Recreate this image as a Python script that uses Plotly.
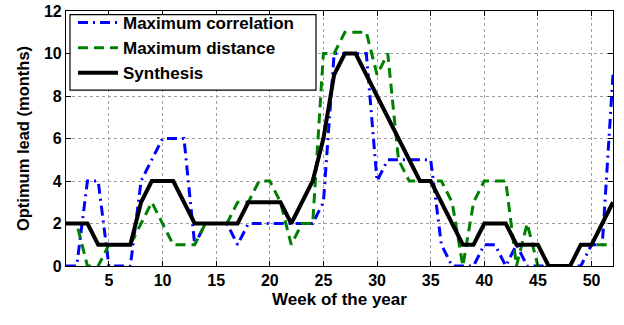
import plotly.graph_objects as go

weeks = list(range(1, 53))

max_correlation = [0, 0, 4, 4, 0, 0, 0, 4, 5, 6, 6, 6, 1, 2, 2, 2, 1, 2, 2, 2,
                   2, 2, 2, 2, 3, 10, 10, 10, 10, 4, 5, 5, 5, 5, 5, 1, 0, 0, 0, 1,
                   1, 0, 1, 0, 0, 0, 0, 0, 0, 1, 1, 9]
max_distance = [2, 2, 0, 0, 1, 1, 1, 2, 3, 2, 1, 1, 1, 2, 2, 2, 3, 3, 4, 4,
                3, 1, 2, 2, 10, 10, 11, 11, 11, 9, 10, 5, 4, 4, 4, 4, 3, 0, 3, 4,
                4, 4, 0, 2, 0, 0, 0, 0, 1, 1, 1, 1]
synthesis = [2, 2, 2, 1, 1, 1, 1, 3, 4, 4, 4, 3, 2, 2, 2, 2, 2, 3, 3, 3,
             3, 2, 3, 4, 6, 9, 10, 10, 9, 8, 7, 6, 5, 4, 4, 3, 2, 1, 1, 2,
             2, 2, 1, 1, 1, 0, 0, 0, 1, 1, 2, 3]

x_ticks = [5, 10, 15, 20, 25, 30, 35, 40, 45, 50]
y_ticks = [0, 2, 4, 6, 8, 10, 12]

FONT = "Liberation Sans, Arial, Helvetica, sans-serif"

fig = go.Figure()
fig.add_trace(go.Scatter(x=weeks, y=max_correlation, mode="lines", name="Maximum correlation",
                         line=dict(color="#0000ff", width=3, dash="10px,5px,2px,5px")))
fig.add_trace(go.Scatter(x=weeks, y=max_distance, mode="lines", name="Maximum distance",
                         line=dict(color="#008000", width=3, dash="10px,6px")))
fig.add_trace(go.Scatter(x=weeks, y=synthesis, mode="lines", name="Synthesis",
                         line=dict(color="#000000", width=4)))

axis_common = dict(
    showline=True, linecolor="black", linewidth=1.2, mirror="allticks",
    ticks="inside", ticklen=5, tickcolor="black",
    showgrid=True, gridcolor="#a0a0a0", griddash="dot", gridwidth=1,
    zeroline=False,
    tickfont=dict(family=FONT, size=16, color="black", weight="bold"),
)

fig.update_xaxes(range=[1, 52], tickvals=x_ticks,
                 title=dict(text="Week of the year", standoff=4,
                            font=dict(family=FONT, size=17, color="black", weight="bold")),
                 **axis_common)
fig.update_yaxes(range=[0, 12], tickvals=y_ticks,
                 title=dict(text="Optimum lead (months)", standoff=10,
                            font=dict(family=FONT, size=16.5, color="black", weight="bold")),
                 **axis_common)

# legend frame (white box with black border), drawn behind the legend entries
fig.add_shape(type="rect", xref="paper", yref="paper",
              x0=0.0073, x1=0.457, y0=0.69, y1=0.986,
              fillcolor="white", line=dict(color="black", width=1.2), layer="above")

fig.update_layout(
    width=624, height=325,
    margin=dict(l=66, r=11, t=11, b=59, autoexpand=False),
    paper_bgcolor="white", plot_bgcolor="white",
    showlegend=True,
    legend=dict(x=0.0128, y=1.0235, xanchor="left", yanchor="top",
                bgcolor="rgba(0,0,0,0)", borderwidth=0,
                font=dict(family=FONT, size=17, color="black", weight="bold"),
                itemwidth=40, tracegroupgap=0),
)

fig.write_html("out.html")
